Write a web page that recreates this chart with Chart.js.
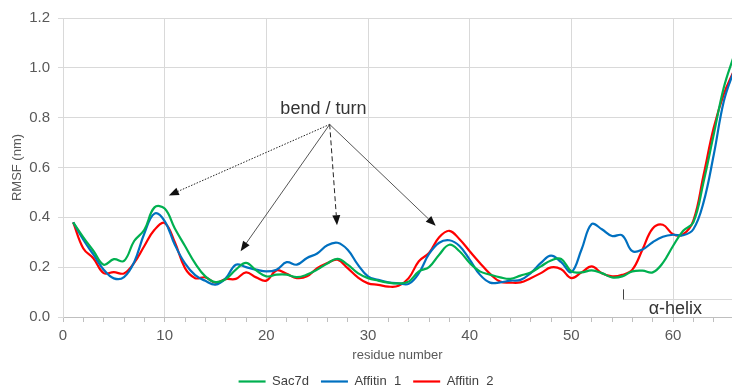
<!DOCTYPE html>
<html>
<head>
<meta charset="utf-8">
<script src="https://cdn.jsdelivr.net/npm/chart.js@4/dist/chart.umd.min.js"></script>
<style>
  html, body { margin: 0; padding: 0; background: #fff; overflow: hidden; }
</style>
</head>
<body>
<canvas id="rmsf-chart" width="732" height="387"></canvas>
<script>
const residues = [];
for (let r = 1; r <= 66; r++) residues.push(r);

const sac7d = [
  0.38, 0.32, 0.265, 0.21, 0.232, 0.225, 0.305, 0.35, 0.44, 0.435,
  0.355, 0.285, 0.215, 0.163, 0.14, 0.152, 0.19, 0.217, 0.187, 0.163,
  0.17, 0.17, 0.16, 0.17, 0.19, 0.215, 0.233, 0.21, 0.176, 0.156,
  0.146, 0.138, 0.135, 0.142, 0.183, 0.2, 0.25, 0.29, 0.264, 0.217,
  0.183, 0.17, 0.159, 0.153, 0.166, 0.179, 0.203, 0.227, 0.233, 0.183,
  0.179, 0.187, 0.176, 0.159, 0.163, 0.183, 0.186, 0.179, 0.217, 0.285,
  0.346, 0.38, 0.542, 0.732, 0.922, 1.05,
];
const affitin1 = [
  0.38, 0.31, 0.25, 0.19, 0.155, 0.16, 0.22, 0.335, 0.415, 0.385,
  0.29, 0.215, 0.168, 0.145, 0.13, 0.155, 0.21, 0.2, 0.19, 0.183,
  0.19, 0.22, 0.21, 0.237, 0.255, 0.288, 0.298, 0.27, 0.21, 0.163,
  0.149, 0.139, 0.135, 0.133, 0.176, 0.253, 0.298, 0.308, 0.285, 0.23,
  0.17, 0.138, 0.139, 0.146, 0.149, 0.176, 0.217, 0.246, 0.22, 0.18,
  0.271, 0.373, 0.352, 0.325, 0.328, 0.264, 0.271, 0.3, 0.322, 0.33,
  0.328, 0.352, 0.46, 0.65, 0.867, 0.99,
];
const affitin2 = [
  0.38, 0.275, 0.235, 0.176, 0.18, 0.175, 0.217, 0.285, 0.35, 0.377,
  0.3, 0.196, 0.156, 0.159, 0.138, 0.152, 0.153, 0.179, 0.159, 0.146,
  0.187, 0.173, 0.156, 0.163, 0.196, 0.217, 0.23, 0.196, 0.159, 0.135,
  0.129, 0.122, 0.125, 0.156, 0.224, 0.257, 0.32, 0.346, 0.312, 0.264,
  0.217, 0.173, 0.142, 0.138, 0.139, 0.156, 0.176, 0.199, 0.192, 0.156,
  0.179, 0.203, 0.176, 0.163, 0.169, 0.19, 0.271, 0.355, 0.37, 0.332,
  0.332, 0.387, 0.569, 0.759, 0.895, 0.99,
];

const xTicks = [];
for (let v = 0; v <= 64; v += 2) xTicks.push(v);

const FONT = "'Liberation Sans', Arial, sans-serif";
const GRID = "#d9d9d9";
const TEXT = "#595959";

function toPoints(values) {
  return values.map((v, i) => ({ x: residues[i], y: v }));
}

function series(label, values, color) {
  return {
    label,
    data: toPoints(values),
    borderColor: color,
    backgroundColor: color,
    borderWidth: 2.2,
    pointRadius: 0,
    tension: 0.4,
    fill: false,
  };
}

// arrows from the "bend / turn" label, in data units (residue, nm)
const bendApex = { x: 26.23, y: 0.773 };
const bendTargets = [
  { x: 10.41, y: 0.488, dash: [1.5, 1.5], color: "#222" },
  { x: 17.47, y: 0.264, dash: [], color: "#555" },
  { x: 26.95, y: 0.368, dash: [5, 3], color: "#222" },
  { x: 36.66, y: 0.366, dash: [], color: "#555" },
];

function drawArrow(ctx, x1, y1, x2, y2, color, dash) {
  const ang = Math.atan2(y2 - y1, x2 - x1);
  const len = 10;
  const half = 4;
  const bx = x2 - len * Math.cos(ang);
  const by = y2 - len * Math.sin(ang);
  ctx.save();
  ctx.strokeStyle = color;
  ctx.lineWidth = 1;
  ctx.setLineDash(dash);
  ctx.beginPath();
  ctx.moveTo(x1, y1);
  ctx.lineTo(bx, by);
  ctx.stroke();
  ctx.setLineDash([]);
  ctx.fillStyle = "#111";
  ctx.beginPath();
  ctx.moveTo(x2, y2);
  ctx.lineTo(bx + half * Math.sin(ang), by - half * Math.cos(ang));
  ctx.lineTo(bx - half * Math.sin(ang), by + half * Math.cos(ang));
  ctx.closePath();
  ctx.fill();
  ctx.restore();
}

const annotations = {
  id: "annotations",
  afterDatasetsDraw(chart) {
    const { ctx, scales, chartArea } = chart;
    const px = (v) => scales.x.getPixelForValue(v);
    const py = (v) => scales.y.getPixelForValue(v);

    ctx.save();
    ctx.font = `18px ${FONT}`;
    ctx.fillStyle = "#333";
    ctx.textBaseline = "alphabetic";
    ctx.textAlign = "left";
    ctx.fillText("bend / turn", px(21.38), py(0.813));

    for (const t of bendTargets) {
      drawArrow(ctx, px(bendApex.x), py(bendApex.y), px(t.x), py(t.y), t.color, t.dash);
    }

    // alpha-helix bracket
    const hx = Math.round(px(55.1)) + 0.5;
    const hy = Math.round(py(0.074)) + 0.5;
    ctx.strokeStyle = GRID;
    ctx.lineWidth = 1;
    ctx.beginPath();
    ctx.moveTo(hx, hy);
    ctx.lineTo(chartArea.right, hy);
    ctx.stroke();
    ctx.strokeStyle = "#444";
    ctx.beginPath();
    ctx.moveTo(hx, py(0.111));
    ctx.lineTo(hx, hy);
    ctx.stroke();
    ctx.fillStyle = "#333";
    ctx.fillText("α-helix", px(57.6), py(0.013));
    ctx.restore();
  },
};

new Chart(document.getElementById("rmsf-chart"), {
  type: "line",
  data: {
    datasets: [
      series("Sac7d", sac7d, "#00b050"),
      series("Affitin  1", affitin1, "#0070c0"),
      series("Affitin  2", affitin2, "#ff0000"),
    ],
  },
  options: {
    responsive: false,
    animation: false,
    layout: { padding: { top: 18, right: 0, left: 0, bottom: -11 } },
    plugins: {
      tooltip: { enabled: false },
      legend: {
        position: "bottom",
        labels: {
          color: "#404040",
          font: { family: FONT, size: 13 },
          usePointStyle: true,
          pointStyle: "line",
          pointStyleWidth: 27,
          boxHeight: 13,
          padding: 12,
          sort: (a, b) => a.datasetIndex - b.datasetIndex,
        },
      },
    },
    scales: {
      x: {
        type: "linear",
        min: 0,
        max: 65.8,
        afterBuildTicks: (axis) => {
          axis.ticks = xTicks.map((v) => ({ value: v }));
        },
        afterFit: (axis) => {
          axis.height = 46;
        },
        ticks: {
          autoSkip: false,
          maxRotation: 0,
          padding: 5,
          color: TEXT,
          font: { family: FONT, size: 15 },
          callback: (v) => (v % 10 === 0 ? String(v) : ""),
        },
        grid: {
          color: (c) => (c.tick && c.tick.value % 10 === 0 && c.tick.value > 0 ? GRID : "transparent"),
          tickColor: "#bfbfbf",
          tickLength: 5,
        },
        border: { color: "#bfbfbf" },
        title: {
          display: true,
          text: "residue number",
          color: TEXT,
          font: { family: FONT, size: 13 },
          padding: { top: 0, bottom: 0 },
        },
      },
      y: {
        min: 0,
        max: 1.2,
        afterFit: (axis) => {
          axis.width = 63;
        },
        ticks: {
          stepSize: 0.2,
          padding: 8,
          color: TEXT,
          font: { family: FONT, size: 15 },
          callback: (v) => v.toFixed(1),
        },
        grid: { color: GRID, tickColor: GRID, tickLength: 5 },
        border: { color: GRID },
        title: {
          display: true,
          text: "RMSF (nm)",
          color: TEXT,
          font: { family: FONT, size: 13 },
          padding: { top: 10, bottom: 0 },
        },
      },
    },
  },
  plugins: [annotations],
});
</script>
</body>
</html>
